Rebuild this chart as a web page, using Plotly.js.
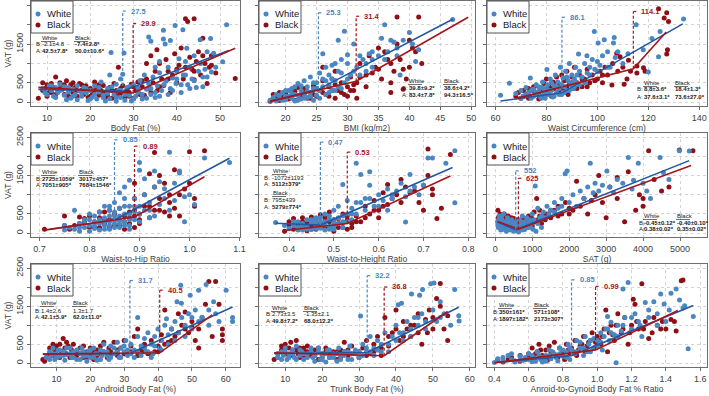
<!DOCTYPE html>
<html><head><meta charset="utf-8">
<script src="https://cdn.plot.ly/plotly-3.0.1.min.js"></script>
<style>html,body{margin:0;padding:0;background:#fff}#chart{width:709px;height:396px}</style>
</head><body><div id="chart"></div>
<script>
// ---------------- DATA ----------------
const groups = ['White', 'Black'];
const xTitles = ['Body Fat (%)', 'BMI (kg/m2)', 'Waist Circumference (cm)', 'Waist-to-Hip Ratio', 'Waist-to-Height Ratio', 'SAT (g)', 'Android Body Fat (%)', 'Trunk Body Fat (%)', 'Anroid-to-Gynoid Body Fat % Ratio'];
const yTitle = 'VAT (g)';
const yTickVals = [0, 500, 1000, 1500, 2000, 2500];
const yTickText = ['0', '500', '', '1500', '', '2500'];
const xTickVals = [
  [10, 20, 30, 40, 50], [20, 25, 30, 35, 40, 45, 50], [60, 80, 100, 120, 140],
  [0.7, 0.8, 0.9, 1.0, 1.1], [0.4, 0.5, 0.6, 0.7, 0.8], [0, 1000, 2000, 3000, 4000, 5000],
  [10, 20, 30, 40, 50, 60], [10, 20, 30, 40, 50, 60], [0.4, 0.6, 0.8, 1.0, 1.2, 1.4, 1.6]
];
const xTickText = [
  ['10', '20', '30', '40', '50'], ['20', '25', '30', '35', '40', '45', '50'], ['60', '80', '100', '120', '140'],
  ['0.7', '0.8', '0.9', '1.0', '1.1'], ['0.4', '0.5', '0.6', '0.7', '0.8'], ['0', '1000', '2000', '3000', '4000', '5000'],
  ['10', '20', '30', '40', '50', '60'], ['10', '20', '30', '40', '50', '60'], ['0.4', '0.6', '0.8', '1.0', '1.2', '1.4', '1.6']
];
const breaksWhite = [27.5, 25.3, 86.1, 0.85, 0.47, 552, 31.7, 32.2, 0.85];
const breaksBlack = [29.9, 31.4, 114.1, 0.89, 0.53, 625, 40.5, 36.8, 0.99];
const statsWhiteB = ['-2.1±4.8', '39.8±9.2*', '8.8±3.6*', '2725±1059*', '-1072±1193', '-0.45±0.12*', '1.4±2.6', '2.73±3.5', '350±161*'];
const statsWhiteA = ['42.5±7.8*', '83.4±7.8*', '37.6±3.1*', '7051±905*', '5112±379*', '0.38±0.02*', '42.1±5.9*', '49.8±7.2*', '1897±182*'];
const statsBlackB = ['-7.4±2.8*', '38.6±4.2*', '18.4±1.3*', '3017±457*', '795±439', '-0.40±0.10*', '1.3±1.7', '-1.35±2.1', '571±108*'];
const statsBlackA = ['50.0±10.6*', '94.3±16.5*', '73.6±27.0*', '7684±1546*', '5279±774*', '0.35±0.02*', '62.0±11.0*', '68.0±12.2*', '2173±307*'];

// fitted segmented regression lines: [x, VAT] at start, breakpoint, end
const bfLineW = [[8, 330], [27.5, 290], [52, 1330]];
const bfLineB = [[8, 380], [29.9, 235], [53.5, 1390]];
const bmiLineW = [[17.5, 20], [25.3, 330], [47, 2140]];
const bmiLineB = [[17.5, 20], [31.4, 540], [49.5, 2190]];
const wcLineW = [[62, 30], [86.1, 240], [133.5, 2020]];
const wcLineB = [[68, 90], [114.1, 860], [127, 1810]];
const whrLineW = [[0.72, 100], [0.85, 345], [1.08, 1950]];
const whrLineB = [[0.71, 80], [0.89, 420], [1.03, 1470]];
const whtrLineW = [[0.37, 260], [0.47, 210], [0.765, 1710]];
const whtrLineB = [[0.39, 70], [0.53, 250], [0.76, 1490]];
const satLineW = [[60, 290], [552, 88], [5250, 1890]];
const satLineB = [[60, 307], [625, 105], [5300, 1760]];
const afLineW = [[6, 240], [31.7, 256], [62, 1480]];
const afLineB = [[6, 240], [40.5, 273], [56, 1270]];
const tfLineW = [[7, 256], [32.2, 282], [57, 1470]];
const tfLineB = [[7, 273], [36.8, 196], [54, 1360]];
const agLineW = [[0.4, 10], [0.85, 200], [1.56, 1520]];
const agLineB = [[0.4, 10], [0.99, 350], [1.47, 1385]];

// scatter points [x, VAT]
const bfW = [[9,350],[10,200],[10.5,420],[11,300],[11.5,150],[12,380],[12.5,250],[13,460],[13.5,320],[14,180],[14,400],[15,260],[15.5,100],[16,330],[16.5,200],[17,60],[17.5,290],[18,150],[18.5,380],[19,240],[19.5,40],[20,300],[20.5,130],[21,420],[21.5,80],[22,260],[22.5,520],[23,180],[23.5,30],[24,350],[24.5,90],[24.5,700],[24.8,1280],[25.5,200],[26,460],[26,20],[26.5,300],[27,600],[27,120],[27.5,720],[27.8,1270],[28,50],[28.5,380],[29,180],[29.5,30],[30,450],[30.5,150],[31,250],[31.5,560],[32,80],[32.5,700],[33,330],[33.5,1680],[33.5,480],[34,1570],[34,200],[34.5,650],[35,900],[35,120],[35.5,420],[36,760],[36,1050],[36.5,300],[36.9,1855],[36.9,1630],[37.3,1500],[37.5,540],[38,900],[38.5,1590],[38.5,350],[39,620],[39.6,1975],[39.8,480],[40,800],[40.5,1120],[41,250],[41.4,1870],[41.5,700],[42,1050],[42.3,1390],[42.5,450],[43,900],[43.5,600],[44,1200],[44.5,380],[45,800],[45.4,1610],[45.5,1000],[46,650],[46.5,850],[47,1300],[47.8,1640],[48,780],[48.5,1260],[49,900],[50.6,1045],[51.5,2000],
  [9.5,250],[11,420],[12,120],[13,300],[14.5,60],[15,380],[16,150],[17,420],[18,250],[19,350],[20,80],[21,200],[22,380],[23,120],[24,230],[25,400],[26,120],[27,300],[28,200],[29,400],[30,80],[31,380],[32,200],[33,100],[34,350],[35,250],[36,150],[37,450],[38,200],[39,300],[40,600],[41,450],[42,700],[43,350],[44,550],[46,400],[47,650]];
const bfB = [[8,100],[9,500],[9.5,350],[10,450],[10.5,250],[11,480],[11.5,380],[12,650],[12.5,300],[13,500],[13.5,420],[14,200],[14.5,550],[15,330],[15.5,450],[16,250],[16.5,380],[17,150],[17.5,480],[18,310],[18.5,200],[19,420],[19.5,120],[20,350],[20.5,240],[21,520],[21.5,380],[22,180],[22.5,300],[23,430],[23.5,130],[24,250],[24.5,380],[25,100],[25.5,480],[26,300],[26.5,900],[27,220],[27.5,420],[28,120],[28.5,330],[29,250],[29.5,460],[30,100],[30.5,300],[31,520],[31.5,200],[32,400],[32.5,180],[33,600],[33,1000],[33.5,350],[34,1200],[34.5,500],[35,800],[35.4,1350],[35.5,300],[36,1000],[36.5,600],[37,430],[37.5,1100],[38,800],[38.5,250],[39,700],[39.5,1250],[40,500],[40.5,950],[41,1400],[41.5,600],[42,2150],[42.5,2080],[43,1160],[43.5,850],[44,2150],[44.5,1050],[44,580],[45,1300],[45.5,700],[46,1650],[46.5,1000],[47,480],[47.5,900],[48,1200],[49,750],[53.5,610],
  [9,300],[10,150],[11,250],[12,200],[13,350],[14,450],[15,150],[16,500],[17,300],[18,450],[19,250],[20,150],[21,300],[22,450],[23,250],[24,150],[25,300],[26,180],[27,350],[28,250],[29,150],[30,400],[31,280],[32,550],[34,250],[36,400],[38,600],[40,850],[42,900],[44,800],[46,1200],[48,950]];
const bmiW = [[17.5,50],[18,120],[18.5,30],[19,180],[19,80],[19.5,250],[20,60],[20,150],[20.5,300],[21,100],[21,220],[21.5,30],[21.5,400],[22,180],[22,480],[22.5,80],[22.5,300],[23,200],[23,550],[23.5,120],[23.5,400],[24,250],[24,650],[24.5,50],[24.5,350],[25,500],[25,180],[25.5,750],[25.5,300],[26,1250],[26,600],[26.5,200],[26.5,900],[27,450],[27,700],[27.5,950],[27.5,300],[28,1000],[28,560],[28.5,1600],[28.5,400],[29,1100],[29,750],[29.5,1830],[29.5,500],[30,1000],[30,1220],[30.5,700],[31,1500],[31.5,900],[32,1200],[32.5,1100],[33,800],[33.5,1250],[34,1100],[34,900],[35,1200],[35.5,1650],[36,2000],[36.5,1300],[37,1600],[37.5,1550],[38,1400],[38.5,700],[39,1600],[40,1800],[40.5,1500],[41,1050],[41.5,1350],[47,2130],
  [18.5,200],[19.5,50],[20,300],[20.5,150],[21,350],[21.5,200],[22,50],[22.5,420],[23,100],[23.5,280],[24,150],[24.5,500],[25,350],[25.5,100],[26,400],[26.5,550],[27,250],[27.5,600],[28,300],[28.5,800],[29,350],[30,600],[31,800],[32,700],[33,1000],[34,1300],[36,1100],[38,1200]];
const bmiB = [[17.5,20],[18,80],[18.5,150],[19,40],[19.5,120],[20,220],[20.5,80],[21,150],[21.5,280],[22,60],[22.5,200],[23,350],[23.5,100],[24,250],[24.5,420],[25,150],[25.5,300],[26,550],[26,900],[26.5,200],[27,400],[27.5,600],[28,100],[28,800],[28.5,300],[29,500],[29.5,200],[30,400],[30.5,650],[31,300],[31.5,100],[31.5,500],[32,650],[32,1000],[33,400],[33.5,1200],[34,750],[34.5,900],[35,1400],[35.5,600],[36,1300],[36.5,1100],[37,250],[37,500],[37.5,800],[38,1500],[38,2200],[38.5,1100],[39,850],[39,330],[39.5,600],[40,1600],[40.5,1400],[41,1300],[41.5,2200],[42,1000],
  [18,200],[19,250],[20,100],[21,300],[21.5,50],[22,380],[22.5,120],[23,220],[24,100],[24.5,200],[25,350],[26,250],[27,150],[27.5,300],[28,450],[29,250],[30,150],[30.5,300],[31,450],[33,700],[35,850],[37,1000],[40,900]];
const wcW = [[62,180],[65.5,490],[68,220],[70,300],[71,150],[72,380],[73,250],[73.7,620],[74,100],[75,330],[75.5,200],[76,450],[77,280],[77.5,150],[78,380],[78.5,520],[79,230],[79.5,100],[80,350],[80.2,840],[80.5,450],[81,200],[81.5,600],[82,300],[82.5,130],[83,420],[83.5,700],[84,250],[84.5,520],[85,350],[85.5,900],[86,200],[86.5,620],[87,400],[87.5,800],[88,300],[88.5,550],[89,1000],[89.5,450],[90,700],[90.5,350],[91,600],[91.5,900],[92,500],[92.6,1240],[93,800],[94,650],[95,1000],[95.9,1200],[96,750],[97,900],[98,1100],[98.8,1820],[99,850],[100,1050],[100.3,1525],[101,950],[102,1200],[102.7,1610],[104,1300],[105,900],[106.3,1525],[106.6,1670],[107,1150],[108,1300],[110,1000],[112,1250],[115.2,1995],[118,1350],[120,780],[121.4,1640],[124,1170],[124.6,1820],[133.8,2145],
  [70,100],[72,200],[74,300],[75,150],[76,250],[77,400],[78,100],[79,350],[80,200],[81,300],[82,500],[83,150],[84,400],[85,200],[86,450],[87,250],[88,650],[89,300],[90,500],[91,400],[92,700],[93,450],[95,500],[97,700],[100,800],[104,900]];
const wcB = [[68,150],[69,250],[70,100],[71,300],[72,200],[73,350],[74,120],[75,280],[76,420],[76.5,200],[77,80],[78,330],[79,480],[79.5,180],[80,600],[80.5,300],[81,420],[82,150],[82.5,520],[83,350],[84,650],[84.5,250],[85,450],[86,700],[86.5,350],[87,550],[88,800],[88.5,200],[89,450],[90,650],[90.5,350],[91,900],[92,500],[93,700],[94,400],[95,600],[96,850],[97,500],[98,700],[100,600],[101,800],[102,500],[103,900],[104,700],[105.7,440],[106,1000],[107.6,1260],[108.9,1170],[110.5,460],[111.6,600],[112.2,1080],[113,800],[115.5,930],[115.5,750],[118.1,890],[118.7,800],[124,2410],[126.2,2170],[127.2,2305],[127.5,1350],[127.9,2080],[127.2,1240],
  [71,150],[73,100],[75,400],[77,250],[78,150],[80,200],[82,350],[83,500],[85,300],[87,250],[88,400],[90,500],[92,350],[94,600],[96,400],[99,550],[102,700],[108,800],[110,900]];
const whrW = [[0.75,80],[0.75,200],[0.76,150],[0.77,600],[0.77,100],[0.78,250],[0.78,50],[0.79,350],[0.79,150],[0.8,500],[0.8,200],[0.8,50],[0.81,300],[0.81,120],[0.81,450],[0.82,550],[0.82,250],[0.82,80],[0.83,400],[0.83,200],[0.83,700],[0.84,600],[0.84,300],[0.84,100],[0.84,450],[0.85,800],[0.85,350],[0.85,150],[0.85,550],[0.86,1050],[0.86,650],[0.86,250],[0.86,450],[0.87,1200],[0.87,900],[0.87,500],[0.87,200],[0.88,1380],[0.88,700],[0.88,350],[0.88,100],[0.89,900],[0.89,550],[0.9,1840],[0.9,1640],[0.9,700],[0.9,300],[0.91,1420],[0.91,1000],[0.92,600],[0.92,800],[0.93,1620],[0.93,1200],[0.93,450],[0.94,1340],[0.94,750],[0.95,1160],[0.95,900],[0.96,2110],[0.96,600],[0.97,1300],[0.97,850],[0.98,1620],[0.98,1570],[0.99,300],[0.99,950],[1.0,1000],[1.01,750],[1.03,1960],[1.08,1840],
  [0.78,150],[0.79,250],[0.8,350],[0.81,200],[0.82,350],[0.83,100],[0.83,300],[0.84,200],[0.84,700],[0.85,250],[0.85,450],[0.86,150],[0.86,350],[0.87,300],[0.87,700],[0.88,200],[0.88,500],[0.89,350],[0.89,700],[0.9,500],[0.91,600],[0.92,400]];
const whrB = [[0.71,100],[0.75,450],[0.75,200],[0.76,100],[0.78,420],[0.78,250],[0.79,380],[0.8,150],[0.81,300],[0.82,400],[0.82,150],[0.83,550],[0.83,250],[0.84,350],[0.84,600],[0.85,200],[0.85,500],[0.86,350],[0.86,650],[0.87,300],[0.87,100],[0.88,550],[0.88,250],[0.89,1300],[0.89,900],[0.89,450],[0.89,150],[0.9,500],[0.9,250],[0.91,1000],[0.91,700],[0.92,1550],[0.92,400],[0.93,2100],[0.93,1200],[0.93,600],[0.94,1500],[0.94,900],[0.95,1300],[0.95,550],[0.96,800],[0.96,1000],[0.97,650],[0.97,1650],[0.98,1000],[0.98,450],[0.99,1150],[1.0,2120],[1.0,1300],[1.01,700],[1.01,900],[1.03,2150],
  [0.77,200],[0.79,300],[0.8,450],[0.81,150],[0.82,550],[0.83,350],[0.84,150],[0.85,350],[0.86,200],[0.87,450],[0.88,400],[0.89,600],[0.9,350],[0.92,700],[0.94,600],[0.96,450]];
const whtrW = [[0.37,280],[0.39,200],[0.4,120],[0.41,300],[0.42,150],[0.43,250],[0.43,80],[0.44,350],[0.44,180],[0.45,100],[0.45,280],[0.46,200],[0.46,400],[0.47,130],[0.47,300],[0.48,220],[0.48,500],[0.48,80],[0.49,350],[0.49,180],[0.5,250],[0.5,600],[0.5,100],[0.51,400],[0.51,700],[0.52,300],[0.52,1270],[0.53,500],[0.53,850],[0.54,350],[0.54,650],[0.55,1820],[0.55,500],[0.56,1530],[0.56,800],[0.57,600],[0.58,1250],[0.58,1600],[0.58,900],[0.59,700],[0.6,1000],[0.61,850],[0.62,1150],[0.62,600],[0.63,900],[0.64,1100],[0.65,1300],[0.66,290],[0.66,950],[0.67,1530],[0.67,1100],[0.68,1200],[0.69,1000],[0.7,1250],[0.71,1960],[0.72,1960],[0.75,1820],[0.77,790],[0.77,2150],
  [0.41,200],[0.42,80],[0.42,300],[0.43,180],[0.44,100],[0.45,350],[0.46,120],[0.46,300],[0.47,200],[0.47,400],[0.48,300],[0.49,100],[0.49,450],[0.5,350],[0.5,180],[0.51,250],[0.52,150],[0.52,450],[0.53,300],[0.54,500],[0.55,800],[0.57,900],[0.6,700],[0.63,1000]];
const whtrB = [[0.39,50],[0.4,220],[0.41,100],[0.41,380],[0.42,250],[0.43,400],[0.43,150],[0.44,60],[0.44,300],[0.45,420],[0.45,200],[0.46,100],[0.46,350],[0.47,480],[0.47,250],[0.48,130],[0.48,400],[0.49,300],[0.49,550],[0.5,200],[0.5,50],[0.51,380],[0.51,150],[0.52,280],[0.52,500],[0.53,100],[0.53,350],[0.54,250],[0.55,450],[0.56,300],[0.57,700],[0.58,500],[0.59,850],[0.6,600],[0.6,400],[0.61,1050],[0.62,750],[0.62,1270],[0.63,900],[0.64,1000],[0.65,1400],[0.65,800],[0.66,1200],[0.67,1050],[0.68,1100],[0.69,800],[0.7,1250],[0.7,600],[0.71,2190],[0.71,1500],[0.72,1000],[0.72,1150],[0.73,380],[0.74,650],[0.76,2050],
  [0.4,300],[0.42,150],[0.43,300],[0.44,200],[0.45,100],[0.46,250],[0.47,150],[0.48,300],[0.49,150],[0.5,350],[0.51,250],[0.52,150],[0.53,450],[0.54,150],[0.55,300],[0.57,400],[0.59,600],[0.61,700]];
const satW = [[60,300],[80,150],[100,450],[120,250],[150,80],[180,350],[200,200],[220,500],[250,120],[280,300],[300,50],[330,400],[360,180],[400,250],[420,80],[450,350],[480,150],[500,50],[530,280],[560,100],[600,200],[630,30],[660,350],[700,150],[730,450],[760,250],[800,100],[850,400],[900,300],[950,150],[1000,500],[1050,350],[1080,1230],[1100,50],[1150,650],[1200,400],[1250,150],[1300,550],[1400,700],[1500,600],[1600,800],[1700,650],[1800,900],[1890,1550],[1940,1620],[2000,800],[2100,1000],[2200,700],[2300,1100],[2400,900],[2500,1200],[2570,1820],[2650,1050],[2700,1300],[2800,1100],[2900,1250],[3020,1620],[3100,1200],[3200,1050],[3300,1400],[3450,1300],[3600,1970],[3700,1150],[3740,1380],[3870,1820],[4000,1300],[4100,1100],[4200,900],[4460,1970],[4550,1580],[4700,1400],[4980,2150],[5250,2140],
  [70,200],[90,350],[130,150],[170,450],[210,100],[240,300],[270,200],[310,150],[350,300],[390,100],[430,200],[470,300],[510,200],[550,150],[590,300],[640,100],[680,250],[720,80],[780,300],[820,200],[880,150],[930,350],[980,250],[1020,100],[1150,250],[1250,450],[1350,400],[1450,500],[1600,550],[1800,700]];
const satB = [[70,600],[90,200],[110,350],[130,500],[160,100],[190,280],[220,400],[250,150],[280,330],[320,220],[350,450],[380,100],[420,300],[460,200],[500,380],[540,120],[580,250],[620,60],[660,300],[700,180],[750,400],[800,250],[850,150],[900,450],[950,300],[1000,200],[1050,550],[1120,900],[1150,350],[1200,600],[1250,250],[1300,450],[1400,500],[1500,400],[1600,600],[1700,700],[1800,500],[1900,800],[2000,650],[2100,600],[2200,1350],[2300,700],[2400,900],[2500,500],[2600,850],[2700,1000],[2800,1500],[2900,800],[3000,400],[3100,1200],[3300,900],[3300,1450],[3500,300],[3600,1600],[3800,600],[3900,1000],[4000,700],[4000,900],[4150,2150],[4300,1400],[4500,1100],[4700,1200],[4980,2170],[5350,2150],
  [80,400],[120,200],[150,300],[200,150],[240,500],[300,100],[340,300],[400,200],[440,400],[480,100],[520,250],[600,350],[640,150],[720,250],[780,100],[830,350],[880,200],[980,400],[1100,300],[1200,450],[1350,350],[1500,600],[1700,450],[2000,500]];
const afW = [[7,150],[8,300],[8.5,200],[9,400],[9.5,100],[10,250],[10.5,350],[11,180],[12,300],[12.5,80],[13,220],[14,400],[14.5,150],[15,300],[16,100],[17,250],[17.5,400],[18,180],[19,50],[19.5,300],[20,150],[21,400],[21.5,250],[22,80],[23,350],[23.5,200],[24,500],[25,300],[25.5,100],[26,450],[27,250],[28,550],[28.5,150],[29,400],[30,300],[30.5,600],[31,200],[32,500],[33,350],[34,1200],[34,700],[35,450],[36,650],[36.5,300],[37,800],[38,500],[38.5,250],[39,700],[40,900],[40.5,400],[41,600],[42,1000],[42.5,1170],[43,750],[44,900],[45,1100],[45.6,1620],[46,800],[46.7,2050],[46.9,1580],[47,1200],[48,1000],[49,1300],[49.5,1790],[50,900],[51,1400],[52,1920],[52,1100],[53,1200],[54.2,2070],[55,1000],[56.4,1620],[57,1300],[58,1100],[60.1,1920],[62,1200],[62,1100],
  [8,100],[9,250],[10,150],[11,350],[12,200],[13,400],[14,250],[15,150],[16,350],[17,100],[18,300],[19,200],[20,350],[21,150],[22,250],[23,100],[24,300],[25,200],[26,150],[27,400],[28,300],[29,150],[30,450],[31,350],[32,250],[33,150],[34,300],[35,200],[36,400],[37,300],[38,150],[39,450],[41,350],[43,500],[45,600],[48,700],[50,1200],[55,1400]];
const afB = [[6,100],[6.5,50],[8,250],[9,500],[9.5,350],[10,450],[10.5,200],[11,500],[11.5,300],[12,650],[12.5,400],[13,250],[13.5,450],[14,150],[14.5,350],[15,500],[15.5,200],[16,300],[17,400],[18,150],[19,300],[20,200],[21,100],[22,350],[23,250],[24,550],[25,150],[25.5,400],[26,300],[27,550],[28,200],[29,400],[30,600],[31,250],[32,450],[33,700],[34,900],[35,350],[36,500],[37,250],[38,600],[39,300],[40,450],[41,750],[42,1400],[43,550],[44,900],[45,700],[46,1300],[47,1000],[48,1350],[49,800],[50,1100],[51,600],[52,400],[52,900],[53,1200],[54,1550],[55,2150],[56,700],[57,2150],[58,1550],[59,900],[59,750],[59,600],
  [7,150],[8,400],[9,200],[10,350],[11,150],[12,300],[13,550],[14,400],[16,200],[17,250],[18,450],[19,150],[20,400],[21,300],[22,200],[23,450],[24,300],[26,200],[28,350],[30,250],[32,300],[34,200],[36,300],[38,250],[40,300],[42,500],[44,600],[46,800],[48,900],[50,950]];
const tfW = [[8,150],[9,300],[9.5,200],[10,400],[10.5,100],[11,250],[12,350],[12.5,150],[13,450],[14,200],[14.5,300],[15,100],[16,250],[17,400],[17.5,150],[18,50],[19,300],[19.5,100],[20,200],[21,30],[21.5,350],[22,150],[23,250],[24,50],[24.5,400],[25,200],[26,300],[27,100],[27.5,450],[28,250],[29,350],[30,150],[30.4,1240],[31,500],[32,300],[33,700],[34,400],[35,600],[36,300],[37,800],[38,500],[39,700],[40,1000],[40.6,1540],[41,800],[41.5,1580],[42,600],[43,1100],[44,900],[44.2,1820],[45,1200],[46,1000],[46.4,1790],[47,1300],[47.2,1940],[48,900],[49.4,2090],[50,1400],[50.3,2110],[51,1100],[52,1620],[53,1300],[54.8,1000],[55.9,1940],[57.1,1110],[57,1250],
  [8,250],[9,100],[10,300],[11,150],[12,250],[13,100],[14,350],[15,250],[16,150],[17,300],[18,200],[19,400],[20,100],[21,250],[22,350],[23,150],[24,250],[25,100],[26,200],[27,300],[28,100],[29,250],[30,300],[31,200],[32,400],[33,300],[34,200],[35,350],[36,500],[38,300],[40,600],[42,800],[44,700],[46,1200],[48,1100],[52,1200]];
const tfB = [[7,100],[8,250],[9,450],[9.5,300],[10,500],[11,200],[11.5,550],[12,350],[13,600],[13.5,250],[14,400],[15,150],[15.5,300],[16,450],[17,200],[18,350],[19,100],[20,250],[21,400],[22,150],[23,300],[24,100],[25,350],[26,550],[27,200],[28,450],[29,300],[30,150],[31,400],[32,600],[33,250],[34,500],[35,700],[35.5,350],[36,200],[37,1200],[38,450],[39,800],[40,1400],[41,600],[42,1100],[43,900],[44,700],[45,1000],[46,1300],[47,500],[48,1150],[48.5,800],[49,1400],[50,1200],[51,1700],[52,1500],[52,2100],[53,900],[54,600],[54,1250],
  [8,150],[9,350],[10,250],[11,400],[12,200],[13,350],[14,150],[15,400],[16,300],[17,250],[18,200],[19,400],[20,150],[21,300],[22,250],[23,200],[24,300],[25,150],[26,300],[27,350],[28,250],[30,300],[32,200],[34,300],[36,400],[38,700],[40,900],[42,700],[44,1000],[46,800],[50,900]];
const agW = [[0.4,20],[0.42,120],[0.45,50],[0.48,200],[0.5,100],[0.52,30],[0.55,180],[0.57,80],[0.6,250],[0.62,40],[0.63,150],[0.65,300],[0.67,100],[0.68,30],[0.7,200],[0.72,350],[0.73,120],[0.75,250],[0.77,60],[0.78,400],[0.8,180],[0.82,300],[0.83,500],[0.84,100],[0.85,350],[0.87,250],[0.88,600],[0.9,400],[0.92,200],[0.93,700],[0.95,500],[0.96,300],[0.98,650],[1.0,450],[1.02,800],[1.03,350],[1.05,900],[1.06,1230],[1.07,600],[1.08,1080],[1.1,750],[1.11,10],[1.12,1000],[1.14,850],[1.15,1950],[1.16,1200],[1.18,2120],[1.2,900],[1.22,1300],[1.24,1100],[1.26,700],[1.28,1600],[1.3,1200],[1.33,1620],[1.35,1000],[1.37,1820],[1.39,1560],[1.4,1100],[1.43,1840],[1.46,1950],[1.48,1660],[1.51,1510],[1.53,380],[1.56,1230],
  [0.45,150],[0.5,250],[0.55,80],[0.58,150],[0.6,100],[0.62,200],[0.64,50],[0.66,200],[0.68,150],[0.7,50],[0.72,200],[0.74,300],[0.76,150],[0.78,250],[0.8,350],[0.82,150],[0.84,400],[0.86,250],[0.88,300],[0.9,550],[0.92,400],[0.94,300],[0.96,600],[0.98,400],[1.0,600],[1.02,550],[1.04,700],[1.06,900],[1.08,800],[1.12,700],[1.15,1000],[1.2,1200],[1.25,1000],[1.3,1400],[1.35,1300],[1.42,1400],[1.5,1450]];
const agB = [[0.42,100],[0.45,30],[0.5,150],[0.52,60],[0.55,200],[0.58,100],[0.6,250],[0.62,400],[0.63,150],[0.65,300],[0.66,500],[0.68,200],[0.7,350],[0.71,80],[0.72,450],[0.74,250],[0.75,550],[0.77,150],[0.78,400],[0.8,300],[0.81,100],[0.82,500],[0.84,250],[0.85,400],[0.87,600],[0.88,200],[0.9,450],[0.92,700],[0.93,300],[0.95,550],[0.97,800],[0.98,400],[1.0,700],[1.02,500],[1.04,900],[1.05,1400],[1.06,300],[1.08,1000],[1.1,600],[1.12,1300],[1.14,800],[1.16,1200],[1.18,500],[1.2,1000],[1.21,1680],[1.22,1550],[1.24,900],[1.26,2090],[1.28,1100],[1.3,650],[1.32,800],[1.35,1000],[1.38,1100],[1.4,900],[1.43,1150],[1.46,850],[1.49,2170],[1.5,2190],
  [0.48,100],[0.55,50],[0.6,150],[0.64,250],[0.67,350],[0.69,150],[0.73,300],[0.76,200],[0.79,250],[0.83,350],[0.86,300],[0.89,350],[0.91,500],[0.94,450],[0.96,600],[0.99,550],[1.01,600],[1.03,700],[1.07,800],[1.09,750],[1.11,1000],[1.15,900],[1.19,800],[1.23,1100],[1.27,900],[1.33,1200],[1.37,900],[1.45,1100]];

// ---------------- LAYOUT / STYLE ----------------
const W = 709, H = 396;
const colPx = [[31, 240], [259, 475], [487, 707]];
const rowPx = [[1, 106], [133, 237], [264, 367]];
const xRanges = [[6.3, 54.6], [15.7, 50.6], [56.7, 143], [0.683, 1.101], [0.333, 0.815], [-225, 5730], [2.5, 64.2], [2.9, 61.4], [0.357, 1.64]];
const yRange = [-100, 2610];
const labelTopW = [2350, 2305, 2190, 2431, 2371, 1623, 2176, 2304, 2193];
const labelTopB = [2030, 2216, 2340, 2267, 2112, 1430, 1920, 2005, 2022];
// stats positions in px relative to panel top-left: [labelX, whiteX, blackX, headerY, bY, aY]
const statsPos = [[3, 9, 42, 37, 43, 50], [141, 148, 183, 80, 87, 94], [148, 155, 186, 82, 88, 96],
                  [3, 9, 46, 39, 46, 52], null, [150, 155, 188, 83, 90, 96],
                  [2, 8, 40, 39, 47, 53], [5, 11, 43, 44, 50, 57], [4, 10, 45, 41, 48, 55]];
const BLUE = '#4a86c2', RED = '#8e1016', BLUE_LINE = '#23589f', RED_LINE = '#a3161d';
const FONT = 'Liberation Sans, Arial, sans-serif';

const panelPoints = [[bfW, bfB], [bmiW, bmiB], [wcW, wcB], [whrW, whrB], [whtrW, whtrB], [satW, satB], [afW, afB], [tfW, tfB], [agW, agB]];
const panelLines = [[bfLineW, bfLineB], [bmiLineW, bmiLineB], [wcLineW, wcLineB], [whrLineW, whrLineB], [whtrLineW, whtrLineB], [satLineW, satLineB], [afLineW, afLineB], [tfLineW, tfLineB], [agLineW, agLineB]];

const traces = [], shapes = [], annotations = [];
const layout = {
  width: W, height: H, margin: {l: 0, r: 0, t: 0, b: 0},
  paper_bgcolor: '#fff', plot_bgcolor: '#fff', showlegend: false,
  font: {family: FONT, color: '#404040'}
};
function fmt(s) { return s.indexOf('*') >= 0 ? '<b>' + s + '</b>' : s; }

for (let i = 0; i < 9; i++) {
  const r = Math.floor(i / 3), c = i % 3;
  const sfx = i === 0 ? '' : String(i + 1);
  const xid = 'x' + sfx, yid = 'y' + sfx;
  const xd = xid + ' domain', yd = yid + ' domain';
  const axCommon = {
    showline: true, mirror: true, linecolor: '#6e6e6e', linewidth: 1,
    ticks: 'outside', ticklen: 3, tickcolor: '#6e6e6e', tickwidth: 1,
    showgrid: true, gridcolor: '#d4d4d4', griddash: 'dot', gridwidth: 1, zeroline: false,
    tickfont: {family: FONT, size: 9, color: '#404040'}
  };
  layout['xaxis' + sfx] = Object.assign({}, axCommon, {
    domain: [colPx[c][0] / W, colPx[c][1] / W], anchor: yid, range: xRanges[i],
    tickmode: 'array', tickvals: xTickVals[i], ticktext: xTickText[i],
    title: {text: xTitles[i], font: {family: FONT, size: 8.5, color: '#404040'}, standoff: 2}
  });
  layout['yaxis' + sfx] = Object.assign({}, axCommon, {
    domain: [1 - rowPx[r][1] / H, 1 - rowPx[r][0] / H], anchor: xid, range: yRange,
    tickmode: 'array', tickvals: yTickVals, ticktext: yTickText,
    showticklabels: c === 0, tickangle: -90,
    title: c === 0 ? {text: yTitle, font: {family: FONT, size: 8.5, color: '#404040'}, standoff: 2} : {text: ''}
  });

  const pts = panelPoints[i], lns = panelLines[i];
  const colors = [BLUE, RED], lcolors = [BLUE_LINE, RED_LINE];
  for (const g of [1, 0]) {
    traces.push({type: 'scatter', mode: 'markers', name: groups[g], xaxis: xid, yaxis: yid,
      x: pts[g].map(p => p[0]), y: pts[g].map(p => p[1]),
      marker: {color: colors[g], size: 5, line: {width: 0}}, hoverinfo: 'x+y'});
  }
  for (let g = 0; g < 2; g++) {
    traces.push({type: 'scatter', mode: 'lines', name: groups[g] + ' fit', xaxis: xid, yaxis: yid,
      x: lns[g].map(p => p[0]), y: lns[g].map(p => p[1]),
      line: {color: lcolors[g], width: 1.6}, hoverinfo: 'skip'});
  }
  // breakpoint markers
  const bps = [breaksWhite[i], breaksBlack[i]], tops = [labelTopW[i], labelTopB[i]];
  const bcol = ['#4a86c2', '#a3161d'];
  for (let g = 0; g < 2; g++) {
    shapes.push({type: 'line', xref: xid, yref: yid, x0: bps[g], x1: bps[g], y0: lns[g][1][1], y1: tops[g],
      line: {color: bcol[g], width: 1.2, dash: '3px,2px'}, layer: 'above'});
    shapes.push({type: 'line', xref: xid, yref: yid, xsizemode: 'pixel', xanchor: bps[g], x0: 0, x1: 5,
      y0: tops[g], y1: tops[g], line: {color: bcol[g], width: 1.2, dash: '3px,2px'}, layer: 'above'});
    annotations.push({xref: xid, yref: yid, x: bps[g], y: tops[g], xanchor: 'left', yanchor: 'middle', xshift: 6,
      text: '<b>' + String(bps[g]) + '</b>', showarrow: false, font: {family: FONT, size: 7.5, color: bcol[g]}});
  }
  // legend box
  shapes.push({type: 'rect', xref: xd, yref: yd, xsizemode: 'pixel', ysizemode: 'pixel', xanchor: 0, yanchor: 1,
    x0: 0, x1: 42, y0: 0, y1: -32, line: {color: '#555', width: 1}, fillcolor: '#fff', layer: 'above'});
  const legY = [13, 24];
  for (let g = 0; g < 2; g++) {
    shapes.push({type: 'circle', xref: xd, yref: yd, xsizemode: 'pixel', ysizemode: 'pixel', xanchor: 0, yanchor: 1,
      x0: 4.5, x1: 9.5, y0: -legY[g] - 2.5, y1: -legY[g] + 2.5, line: {width: 0}, fillcolor: colors[g], layer: 'above'});
    annotations.push({xref: xd, yref: yd, x: 0, y: 1, xanchor: 'left', yanchor: 'middle', xshift: 14, yshift: -legY[g],
      text: groups[g], showarrow: false, font: {family: FONT, size: 9.5, color: '#202020'}});
  }
  // stats text
  function addText(txt, px, py) {
    annotations.push({xref: xd, yref: yd, x: 0, y: 1, xanchor: 'left', yanchor: 'middle', xshift: px, yshift: -py,
      text: txt, showarrow: false, font: {family: FONT, size: 6, color: '#202020'}});
  }
  function addHeader(txt, px, py) {
    addText(txt, px, py);
    shapes.push({type: 'line', xref: xd, yref: yd, xsizemode: 'pixel', ysizemode: 'pixel', xanchor: 0, yanchor: 1,
      x0: px + 1, x1: px + 15, y0: -py - 3.5, y1: -py - 3.5, line: {color: '#303030', width: 0.7}, layer: 'above'});
  }
  const sp = statsPos[i];
  if (sp) {
    const [lx, wx, bx, hy, by, ay] = sp;
    addHeader('White', wx, hy); addHeader('Black', bx, hy);
    addText('B:', lx, by); addText('A:', lx, ay);
    addText(fmt(statsWhiteB[i]), wx, by); addText(fmt(statsWhiteA[i]), wx, ay);
    addText(fmt(statsBlackB[i]), bx, by); addText(fmt(statsBlackA[i]), bx, ay);
  } else {
    // stacked layout
    addHeader('White', 12, 38);
    addText('B:', 3, 45); addText(fmt(statsWhiteB[i]), 11, 45);
    addText('A:', 3, 51); addText(fmt(statsWhiteA[i]), 11, 51);
    addHeader('Black', 12, 60);
    addText('B:', 3, 67); addText(fmt(statsBlackB[i]), 11, 67);
    addText('A:', 3, 74); addText(fmt(statsBlackA[i]), 11, 74);
  }
}
layout.shapes = shapes;
layout.annotations = annotations;
Plotly.newPlot('chart', traces, layout, {displayModeBar: false, staticPlot: true});
</script></body></html>
